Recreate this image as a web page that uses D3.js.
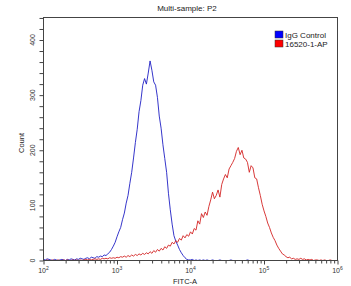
<!DOCTYPE html>
<html>
<head>
<meta charset="utf-8">
<script src="https://cdn.jsdelivr.net/npm/d3@7"></script>
<style>
body { margin: 0; background: #fff; }
svg { display: block; font-family: "Liberation Sans", Arial, sans-serif; }
</style>
</head>
<body>
<div id="viz"></div>
<script>
// Channels: log10 of FITC-A, fixed bin width.
var binStart = 2, binStep = 0.025;

// Counts per channel.
var iggControl = [
	2,1,3,2,1,0,2,1,0,1,2,1,0,2,1,3,2,1,3,2,
	4,3,2,4,5,3,6,5,4,7,6,8,7,10,9,12,15,20,26,33,
	43,52,60,74,86,104,118,140,160,186,214,238,270,290,318,330,320,340,362,345,
	324,318,296,262,240,210,185,160,122,92,66,45,35,28,20,14,9,5,2,1,
	1,2,0,1,0,1,0,1,0,1,0,0,1,0,0,0,1,0,0,0,
	0,0,1,0,0,0,0,0,0,0,0,1,0,0,0,0,0,0,0,0,
	0,0,0,0,0,0,0,0,0,0,0,0,0,0,0,0,0,0,0,0,
	0,0,0,0,0,0,0,0,0,0,0,0,0,0,0,0,0,0,0,0
];
var antibody = [
	0,0,1,0,0,1,0,0,1,0,0,1,0,1,0,0,1,0,1,0,
	1,0,1,2,1,2,1,2,3,2,3,2,4,3,4,3,5,4,5,4,
	6,5,7,6,8,6,9,7,10,8,11,9,12,10,13,11,14,12,16,13,
	18,15,20,17,22,19,25,22,28,26,33,30,36,33,40,37,45,41,47,44,
	52,48,58,55,72,66,85,78,88,82,98,110,124,112,118,128,115,138,148,156,
	150,166,172,178,185,198,205,192,200,186,184,178,160,172,168,150,148,132,118,102,
	90,80,68,60,50,42,36,28,22,17,12,10,7,5,6,3,4,2,3,2,
	4,2,3,1,2,1,2,0,1,1,0,1,0,1,0,0,1,0,0,0
];

var seriesNames = ["IgG Control", "16520-1-AP"];
var lineColors = ["#1f1fc4", "#d42424"];
var swatchColors = ["#0000ff", "#ff0000"];
var yTicks = [0, 100, 200, 300, 400];
var xDecades = [2, 3, 4, 5, 6];

var width = 351, height = 286;
var plotL = 43.5, plotR = 337.5, plotT = 17.5, plotB = 260.5;

var svg = d3.select("#viz")
	.append("svg")
	.attr("width", width)
	.attr("height", height);

var x = d3.scaleLog().domain([100, 1e6]).range([plotL, plotR]);
var y = d3.scaleLinear().domain([0, 400]).range([plotB, 40]);

// Title.
svg.append("text")
	.attr("x", 187)
	.attr("y", 11)
	.attr("text-anchor", "middle")
	.style("font-size", "8px")
	.style("fill", "#222")
	.text("Multi-sample: P2");

// Histograms.
svg.append("clipPath").attr("id", "plotclip")
	.append("rect")
	.attr("x", plotL).attr("y", plotT)
	.attr("width", plotR - plotL).attr("height", plotB - plotT);

var line = d3.line()
	.x(function (d, i) { return x(Math.pow(10, binStart + i * binStep)); })
	.y(function (d) { return y(d); });

[iggControl, antibody].forEach(function (counts, k) {
	svg.append("path")
		.attr("clip-path", "url(#plotclip)")
		.attr("d", line(counts))
		.style("fill", "none")
		.style("stroke", lineColors[k])
		.style("stroke-width", 0.9);
});

// Frame.
svg.append("rect")
	.attr("x", plotL).attr("y", plotT)
	.attr("width", plotR - plotL).attr("height", plotB - plotT)
	.style("fill", "none")
	.style("stroke", "#444")
	.style("stroke-width", 1);

// Y axis: tick every 20, labels every 100, rotated.
var yMax = y.invert(plotT);
var yAxis = d3.axisLeft(y)
	.tickValues(d3.range(0, yMax, 20))
	.tickSize(4)
	.tickFormat("");
var gy = svg.append("g").attr("transform", "translate(" + plotL + ",0)").call(yAxis);
gy.select(".domain").remove();
gy.selectAll("line").style("stroke", "#444");

yTicks.forEach(function (v) {
	svg.append("text")
		.attr("transform", "translate(35," + y(v) + ") rotate(-90)")
		.attr("text-anchor", "middle")
		.style("font-size", "7px")
		.style("fill", "#333")
		.text(v);
});

svg.append("text")
	.attr("transform", "translate(24,143) rotate(-90)")
	.attr("text-anchor", "middle")
	.style("font-size", "7.5px")
	.style("fill", "#222")
	.text("Count");

// X axis: decades with minor ticks.
var minor = [];
xDecades.forEach(function (d) {
	if (d < 6) for (var m = 2; m < 10; m++) minor.push(m * Math.pow(10, d));
});
var gxMinor = svg.append("g").attr("transform", "translate(0," + plotB + ")")
	.call(d3.axisBottom(x).tickValues(minor).tickSize(3).tickFormat(""));
gxMinor.select(".domain").remove();
gxMinor.selectAll("line").style("stroke", "#444");

var gx = svg.append("g").attr("transform", "translate(0," + plotB + ")")
	.call(d3.axisBottom(x).tickValues(xDecades.map(function (d) { return Math.pow(10, d); }))
		.tickSize(4).tickFormat(""));
gx.select(".domain").remove();
gx.selectAll("line").style("stroke", "#444");

xDecades.forEach(function (d) {
	var t = svg.append("text")
		.attr("x", x(Math.pow(10, d)))
		.attr("y", 273)
		.attr("text-anchor", "middle")
		.style("font-size", "7px")
		.style("fill", "#333");
	t.append("tspan").text("10");
	t.append("tspan").attr("dy", -3).style("font-size", "5px").text(d);
});

svg.append("text")
	.attr("x", 185)
	.attr("y", 284)
	.attr("text-anchor", "middle")
	.style("font-size", "7.5px")
	.style("fill", "#222")
	.text("FITC-A");

// Legend.
seriesNames.forEach(function (name, k) {
	svg.append("rect")
		.attr("x", 275).attr("y", 31 + k * 9)
		.attr("width", 8).attr("height", 7)
		.style("fill", swatchColors[k])
		.style("stroke", "#333")
		.style("stroke-width", 0.5);
	svg.append("text")
		.attr("x", 285).attr("y", 37.5 + k * 9)
		.style("font-size", "8px")
		.style("fill", "#222")
		.text(name);
});
</script>
</body>
</html>
